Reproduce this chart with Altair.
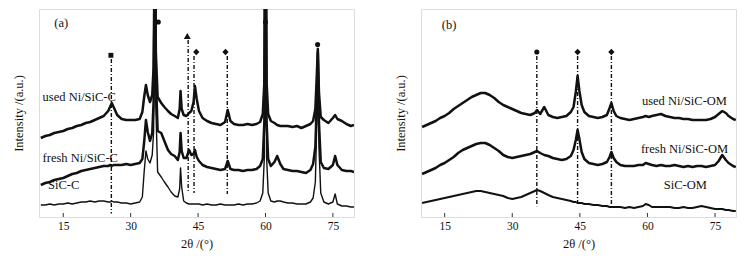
import altair as alt
import pandas as pd

# ---------------- panel (a) data ----------------
theta_a = [10, 11, 12, 13, 14, 15, 16, 17, 18, 19, 20, 21, 22, 23, 24, 25, 25.5, 25.8, 26.2, 27,
           28, 29, 30, 31, 32, 32.6, 33.0, 33.4, 33.8, 34.3, 34.8, 35.1, 35.25, 35.4, 35.6, 36.0,
           36.8, 37.5, 38.3, 39.0, 39.8, 40.5, 40.9, 41.1, 41.35, 41.8, 42.4, 43.0, 43.5, 44.0,
           44.3, 44.7, 45.2, 46, 47, 48, 49, 50, 51, 51.6, 52.2, 53, 54, 55, 56, 57, 58, 58.8,
           59.4, 59.75, 60.0, 60.25, 60.6, 61.2, 62.0, 62.6, 63.3, 64, 65, 66, 67, 68, 69, 70,
           70.6, 71.1, 71.45, 71.65, 71.9, 72.3, 73, 74, 75, 75.5, 76, 77, 78, 79, 79.7]

sic_c = [12, 12, 13, 12, 13, 13, 14, 13, 14, 15, 15, 16, 15, 16, 16, 15, 15, 16, 15, 15,
         14, 14, 13, 14, 15, 20, 45, 66, 58, 54, 62, 85, 170, 330, 110, 45,
         40, 35, 30, 25, 21, 20, 28, 49, 30, 16, 14, 13, 13, 13,
         13, 13, 13, 12, 13, 12, 12, 13, 12, 12, 12, 12, 13, 12, 13, 13, 14, 16,
         24, 60, 330, 60, 24, 16, 15, 16, 16, 15, 14, 14, 13, 13, 13, 15,
         19, 35, 100, 160, 70, 24, 15, 13, 15, 23, 13, 11, 11, 10, 10]

fresh_c = [32, 34, 35, 37, 38, 39, 41, 43, 44, 46, 47, 48, 49, 50, 51, 51, 52, 51, 52, 52,
           52, 53, 52, 53, 54, 58, 75, 97, 85, 76, 84, 115, 190, 340, 140, 86,
           84, 76, 67, 63, 61, 57, 65, 84, 66, 59, 59, 67, 62, 63,
           67, 60, 56, 52, 50, 49, 48, 47, 48, 56, 48, 47, 47, 46, 47, 47, 48, 51,
           58, 95, 340, 95, 58, 51, 55, 61, 53, 48, 47, 46, 46, 45, 44, 47,
           53, 70, 120, 165, 95, 55, 49, 48, 52, 61, 52, 47, 46, 46, 45]

used_c = [79, 81, 82, 84, 85, 86, 88, 89, 91, 92, 94, 95, 97, 99, 101, 106, 111, 114, 110, 102,
          98, 97, 97, 97, 98, 105, 120, 132, 122, 115, 122, 150, 220, 350, 165, 120,
          114, 110, 106, 103, 101, 99, 108, 126, 108, 102, 101, 104, 106, 115,
          131, 118, 106, 99, 96, 94, 93, 92, 95, 107, 96, 93, 92, 92, 93, 92, 93, 95,
          103, 135, 350, 135, 103, 96, 94, 92, 91, 91, 91, 90, 91, 89, 91, 93,
          96, 108, 145, 168, 125, 100, 97, 94, 99, 102, 98, 96, 93, 91, 92]

labels_a = ["used Ni/SiC-C", "fresh Ni/SiC-C", "SiC-C", "(a)"]
labels_a_x = [10.4, 10.4, 11.6, 13.0]
labels_a_y = [120.5, 59, 32, 194]

marker_a_x = [25.6, 36.15, 42.6, 44.6, 51.1, 60.0, 71.6]
marker_a_y = [161.7, 195, 181, 165, 165, 195, 172.4]
marker_a_shape = ["square", "circle", "triangle-up", "diamond", "diamond", "circle", "circle"]
marker_a_size = [24, 26, 48, 40, 40, 26, 26]

guide_a_x = [25.7, 42.8, 44.1, 51.5]
guide_a_top = [158, 177, 161, 161]
guide_a_bottom = [3.5, 24, 24, 23]

# ---------------- panel (b) data ----------------
theta_b = [10, 11, 12, 13, 14, 15, 16, 17, 18, 19, 20, 21, 22, 23, 24, 25, 26, 27, 28, 29, 30,
           31, 32, 33, 34, 35, 35.5, 36.2, 37.1, 38, 39, 40, 41, 42, 43, 43.6, 44.1, 44.5,
           44.9, 45.4, 46, 47, 48, 49, 50, 51, 51.6, 52.0, 52.5, 53.1, 54, 55, 56, 57, 58,
           59, 59.6, 60.3, 61, 62, 63, 64, 65, 66, 67, 68, 69, 70, 71, 72, 73, 74, 75, 75.8,
           76.6, 77.4, 78, 79, 79.6]

sic_om = [14, 15, 16, 17, 18, 19, 20, 21, 22, 23, 24, 25, 26, 26, 25, 24, 23, 22, 21, 19, 18,
          19, 20, 22, 24, 26, 27, 26, 24, 22, 20, 19, 18, 17, 16, 15, 15, 14,
          14, 14, 13, 13, 12, 12, 11, 11, 10, 10, 10, 10, 10, 9, 10, 9, 10,
          11, 13, 12, 10, 10, 10, 10, 10, 9, 9, 10, 9, 9, 10, 11, 10, 9, 8, 8,
          8, 7, 7, 6, 6]

fresh_om = [43, 45, 47, 49, 52, 54, 57, 60, 64, 67, 69, 71, 73, 74, 74, 72, 69, 66, 62, 60, 59,
            60, 61, 62, 63, 65, 66, 64, 62, 61, 59, 58, 57, 58, 61, 67, 77, 87,
            78, 65, 58, 54, 53, 52, 53, 55, 60, 65, 59, 55, 52, 51, 51, 51, 52,
            52, 54, 53, 52, 51, 52, 51, 51, 52, 51, 50, 51, 50, 51, 51, 50, 51, 52, 56,
            62, 57, 54, 51, 50]

used_om = [90, 92, 94, 96, 99, 101, 104, 108, 111, 114, 117, 120, 122, 124, 124, 122, 119, 115, 112, 110, 108,
           106, 104, 103, 102, 104, 107, 103, 110, 102, 100, 99, 100, 101, 105, 110, 125, 141,
           126, 112, 105, 101, 100, 99, 100, 102, 109, 114, 106, 101, 99, 98, 97, 98, 99,
           100, 101, 100, 101, 102, 103, 101, 100, 99, 99, 98, 98, 97, 97, 97, 97, 98, 100, 103,
           106, 104, 101, 98, 97]

labels_b = ["used Ni/SiC-OM", "fresh Ni/SiC-OM", "SiC-OM", "(b)"]
labels_b_x = [77.65, 77.9, 73.2, 17.6]
labels_b_y = [115.7, 68, 32.4, 192.4]

marker_b_x = [35.45, 44.5, 52.0]
marker_b_y = [165, 165, 165]
marker_b_shape = ["circle", "diamond", "diamond"]
marker_b_size = [26, 40, 40]

guide_b_x = [35.45, 44.5, 52.0]
guide_b_top = [161, 161, 161]
guide_b_bottom = [10.7, 11.7, 12.4]

tick_values = [15, 30, 45, 60, 75]

FONT = "Liberation Serif"
W, H = 315, 208


def panel(theta, curves, names, widths, dom, labels, lx, ly, align,
          mx, my, mshape, msize, gx, gtop, gbot):
    rows = []
    for name, vals, w in zip(names, curves, widths):
        for t, v in zip(theta, vals):
            rows.append({"t": t, "v": v, "s": name, "w": w})
    df = pd.DataFrame(rows)
    xs = alt.Scale(domain=dom, nice=False, zero=False)
    ys = alt.Scale(domain=[0, H], nice=False, zero=False)
    xaxis = alt.Axis(values=tick_values, ticks=False, domain=False, grid=False,
                     title="2θ /(°)", labelFont=FONT, labelFontSize=11.5, labelColor="#111",
                     labelPadding=3, titleFont=FONT, titleFontSize=12.5,
                     titleFontWeight="normal", titleColor="#111", titlePadding=6)
    yaxis = alt.Axis(labels=False, ticks=False, domain=False, grid=False,
                     title="Intensity /(a.u.)", titleFont=FONT, titleFontSize=12.5,
                     titleFontWeight="normal", titleColor="#111", titlePadding=14)
    lines = alt.Chart(df).mark_line(clip=True, color="#111", interpolate="linear",
                                    strokeJoin="round").encode(
        x=alt.X("t:Q", scale=xs, axis=xaxis),
        y=alt.Y("v:Q", scale=ys, axis=yaxis),
        detail="s:N",
        strokeWidth=alt.StrokeWidth("w:Q", scale=None, legend=None),
    )
    gdf = pd.DataFrame({"t": gx, "top": gtop, "bot": gbot})
    guides = alt.Chart(gdf).mark_rule(color="#111", strokeWidth=1.4,
                                      strokeDash=[4, 2, 1, 2]).encode(
        x=alt.X("t:Q", scale=xs), y=alt.Y("top:Q", scale=ys), y2="bot:Q")
    mdf = pd.DataFrame({"t": mx, "v": my, "shape": mshape, "size": msize})
    markers = alt.Chart(mdf).mark_point(filled=True, color="#111", opacity=1).encode(
        x=alt.X("t:Q", scale=xs), y=alt.Y("v:Q", scale=ys),
        shape=alt.Shape("shape:N", scale=None, legend=None),
        size=alt.Size("size:Q", scale=None, legend=None))
    ldf = pd.DataFrame({"t": lx, "v": ly, "txt": labels})
    texts = alt.Chart(ldf).mark_text(font=FONT, fontSize=12.5, color="#111",
                                     align=align, baseline="middle").encode(
        x=alt.X("t:Q", scale=xs), y=alt.Y("v:Q", scale=ys), text="txt:N")
    tdf = pd.DataFrame({"t": tick_values})
    ticks = alt.Chart(tdf).mark_rule(color="#333", strokeWidth=1).encode(
        x=alt.X("t:Q", scale=xs), y=alt.datum(0), y2=alt.datum(4))
    return alt.layer(lines, guides, markers, texts, ticks).properties(width=W, height=H)


pa = panel(theta_a, [sic_c, fresh_c, used_c], ["SiC-C", "fresh", "used"], [1.4, 2.5, 2.5],
           [9.6, 79.7], labels_a, labels_a_x, labels_a_y, "left",
           marker_a_x, marker_a_y, marker_a_shape, marker_a_size,
           guide_a_x, guide_a_top, guide_a_bottom)
pb = panel(theta_b, [sic_om, fresh_om, used_om], ["SiC-OM", "fresh", "used"], [2.0, 2.5, 2.5],
           [9.75, 79.65], labels_b, labels_b_x, labels_b_y, "right",
           marker_b_x, marker_b_y, marker_b_shape, marker_b_size,
           guide_b_x, guide_b_top, guide_b_bottom)

chart = alt.hconcat(pa, pb, spacing=38).properties(
    padding={"left": 3, "top": 0, "right": 0, "bottom": 0}
).configure_view(stroke="#8a8a8a", strokeWidth=1).configure(background="white")

chart.save("out.html", embed_options={"renderer": "svg", "actions": False})
